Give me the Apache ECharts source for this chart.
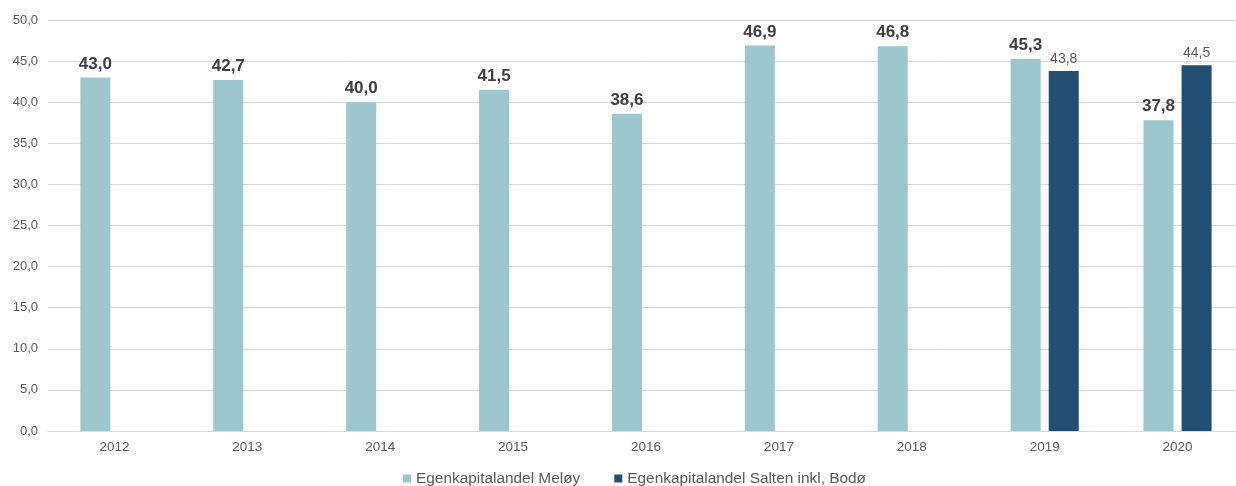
<!DOCTYPE html>
<html>
<head>
<meta charset="utf-8">
<script src="https://cdn.jsdelivr.net/npm/echarts@6/dist/echarts.min.js"></script>
<style>
  html, body { margin: 0; padding: 0; background: #fff; overflow: hidden; }
  #chart { width: 1236px; height: 486px; }
</style>
</head>
<body>
<div id="chart"></div>
<script>
(function () {
    'use strict';

    var years = ['2012', '2013', '2014', '2015', '2016', '2017', '2018', '2019', '2020'];
    var meloy = [43.0, 42.7, 40.0, 41.5, 38.6, 46.9, 46.8, 45.3, 37.8];
    var salten = [null, null, null, null, null, null, null, 43.8, 44.5];

    function comma(v) {
        return v.toFixed(1).replace('.', ',');
    }

    var font = '"Liberation Sans", Arial, sans-serif';
    var chart = echarts.init(document.getElementById('chart'));

    // plot area runs a little past the right edge, like the cropped original
    chart.setOption({
        animation: false,
        textStyle: { fontFamily: font },
        grid: {
            left: 48, width: 1196, top: 20, bottom: 55,
            containLabel: false,
            outerBoundsMode: 'none'
        },
        legend: {
            top: 466,
            left: 398,
            itemWidth: 8,
            itemHeight: 8,
            itemGap: 34,
            icon: 'rect',
            textStyle: { color: '#595959', fontSize: 15.4, fontFamily: font },
            data: ['Egenkapitalandel Meløy', 'Egenkapitalandel Salten inkl, Bodø']
        },
        xAxis: {
            type: 'category',
            data: years,
            axisLine: { lineStyle: { color: '#d9d9d9' } },
            axisTick: { show: false },
            axisLabel: { color: '#595959', fontSize: 13.5, margin: 9 }
        },
        yAxis: {
            type: 'value',
            min: 0,
            max: 50,
            interval: 5,
            axisLine: { show: false },
            axisTick: { show: false },
            splitLine: { lineStyle: { color: '#d9d9d9' } },
            axisLabel: {
                color: '#595959',
                fontSize: 13,
                margin: 10,
                formatter: function (v) { return comma(v); }
            }
        },
        series: [
            {
                name: 'Egenkapitalandel Meløy',
                type: 'bar',
                data: meloy,
                barWidth: 30,
                barGap: '27%',
                itemStyle: { color: '#9dc6cd' },
                label: {
                    show: true,
                    position: 'top',
                    distance: 5,
                    color: '#404040',
                    fontSize: 17,
                    fontWeight: 'bold',
                    formatter: function (p) { return comma(p.value); }
                }
            },
            {
                name: 'Egenkapitalandel Salten inkl, Bodø',
                type: 'bar',
                data: salten,
                barWidth: 30,
                itemStyle: { color: '#234e73' },
                label: {
                    show: true,
                    position: 'top',
                    distance: 5,
                    color: '#595959',
                    fontSize: 14,
                    formatter: function (p) { return p.value == null ? '' : comma(p.value); }
                }
            }
        ]
    });
})();
</script>
</body>
</html>
